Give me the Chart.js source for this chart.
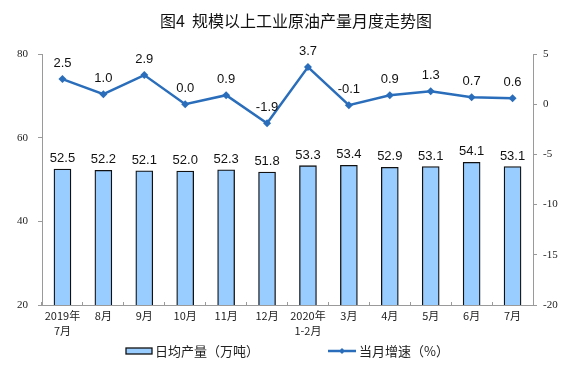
<!DOCTYPE html>
<html>
<head>
<meta charset="utf-8">
<script src="https://cdn.jsdelivr.net/npm/chart.js@4"></script>
<style>
  html, body { margin: 0; padding: 0; background: #fff; }
  #wrap { width: 576px; height: 384px; }
</style>
</head>
<body>
<div id="wrap"><canvas id="c" width="576" height="384"></canvas></div>
<script>
// monthly crude oil output vs growth rate
const months = [["2019年", "7月"], "8月", "9月", "10月", "11月", "12月", ["2020年", "1-2月"], "3月", "4月", "5月", "6月", "7月"];
const dailyOutput = [52.5, 52.2, 52.1, 52.0, 52.3, 51.8, 53.3, 53.4, 52.9, 53.1, 54.1, 53.1];
const growthRate = [2.5, 1.0, 2.9, 0.0, 0.9, -1.9, 3.7, -0.1, 0.9, 1.3, 0.7, 0.6];
const leftTicks = [20, 40, 60, 80];
const rightTicks = [-20, -15, -10, -5, 0, 5];

const titleText = "图4  规模以上工业原油产量月度走势图";
const barLabel = "日均产量（万吨）";
const lineLabel = "当月增速（%）";

const sans = "'Liberation Sans', Arial, 'Noto Sans CJK SC', sans-serif";
const cjk = "'Noto Sans CJK SC', 'Liberation Sans', sans-serif";
const serif = "'Liberation Serif', 'Times New Roman', serif";
const barFill = "#99CCFF";
const lineColor = "#2A6EBB";
const axisColor = "#9a9a9a";

// title, value labels and legend are drawn here
const extras = {
  id: "extras",
  afterDatasetsDraw(chart) {
    const ctx = chart.ctx;
    const barMeta = chart.getDatasetMeta(0);
    const lineMeta = chart.getDatasetMeta(1);
    ctx.save();
    ctx.fillStyle = "#111";
    ctx.textAlign = "center";
    ctx.textBaseline = "alphabetic";
    ctx.font = "13px " + sans;
    barMeta.data.forEach((el, i) => {
      ctx.fillText(dailyOutput[i].toFixed(1), el.x, el.y - 7);
    });
    lineMeta.data.forEach((el, i) => {
      ctx.fillText(growthRate[i].toFixed(1), el.x, el.y - 12);
    });

    // title
    ctx.font = "16px " + cjk;
    ctx.textBaseline = "middle";
    ctx.fillStyle = "#111";
    ctx.fillText(titleText, 296, 21);

    // legend
    ctx.font = "13px " + cjk;
    ctx.textAlign = "left";
    ctx.fillStyle = barFill;
    ctx.fillRect(126, 348, 26, 6);
    ctx.strokeStyle = "#111";
    ctx.lineWidth = 1.3;
    ctx.strokeRect(126, 348, 26, 6);
    ctx.fillStyle = "#222";
    ctx.fillText(barLabel, 155, 351);

    ctx.strokeStyle = lineColor;
    ctx.lineWidth = 2.5;
    ctx.beginPath();
    ctx.moveTo(328, 351);
    ctx.lineTo(356, 351);
    ctx.stroke();
    ctx.fillStyle = lineColor;
    ctx.beginPath();
    ctx.moveTo(342, 348); ctx.lineTo(345, 351); ctx.lineTo(342, 354); ctx.lineTo(339, 351);
    ctx.closePath();
    ctx.fill();
    ctx.fillStyle = "#222";
    ctx.fillText(lineLabel, 359, 351);
    ctx.restore();
  }
};

new Chart(document.getElementById("c"), {
  data: {
    labels: months,
    datasets: [
      {
        type: "bar",
        label: barLabel,
        data: dailyOutput,
        yAxisID: "y",
        backgroundColor: barFill,
        borderColor: "#111",
        borderWidth: 1.3,
        barThickness: 17,
        order: 2
      },
      {
        type: "line",
        label: lineLabel,
        data: growthRate,
        yAxisID: "y1",
        borderColor: lineColor,
        backgroundColor: lineColor,
        borderWidth: 2.5,
        pointStyle: "rectRot",
        pointRadius: 4,
        pointBorderWidth: 0,
        tension: 0,
        order: 1
      }
    ]
  },
  options: {
    responsive: false,
    animation: false,
    layout: { padding: { top: 54, left: 0, right: 0, bottom: 0 } },
    plugins: {
      legend: { display: false },
      title: { display: false },
      tooltip: { enabled: false }
    },
    scales: {
      x: {
        offset: true,
        grid: { display: true, drawOnChartArea: false, drawTicks: true, tickLength: -3, color: axisColor, offset: true },
        border: { color: axisColor, width: 1 },
        ticks: {
          color: "#222",
          font: { size: 11, family: cjk, lineHeight: 1.4 },
          maxRotation: 0,
          autoSkip: false,
          padding: 6
        },
        afterFit(scale) { scale.height = 79; }
      },
      y: {
        position: "left",
        min: 20,
        max: 80,
        afterBuildTicks(scale) { scale.ticks = leftTicks.map(v => ({ value: v })); },
        grid: { drawOnChartArea: false, drawTicks: true, tickLength: 4, color: axisColor },
        border: { color: axisColor, width: 1 },
        ticks: { color: "#222", font: { size: 11, family: serif }, padding: 10 },
        afterFit(scale) { scale.width = 42; }
      },
      y1: {
        position: "right",
        min: -20,
        max: 5,
        afterBuildTicks(scale) { scale.ticks = rightTicks.map(v => ({ value: v })); },
        grid: { drawOnChartArea: false, drawTicks: true, tickLength: 4, color: axisColor },
        border: { color: axisColor, width: 1 },
        ticks: { color: "#222", font: { size: 11, family: serif }, padding: 6 },
        afterFit(scale) { scale.width = 43; }
      }
    }
  },
  plugins: [extras]
});
</script>
</body>
</html>
